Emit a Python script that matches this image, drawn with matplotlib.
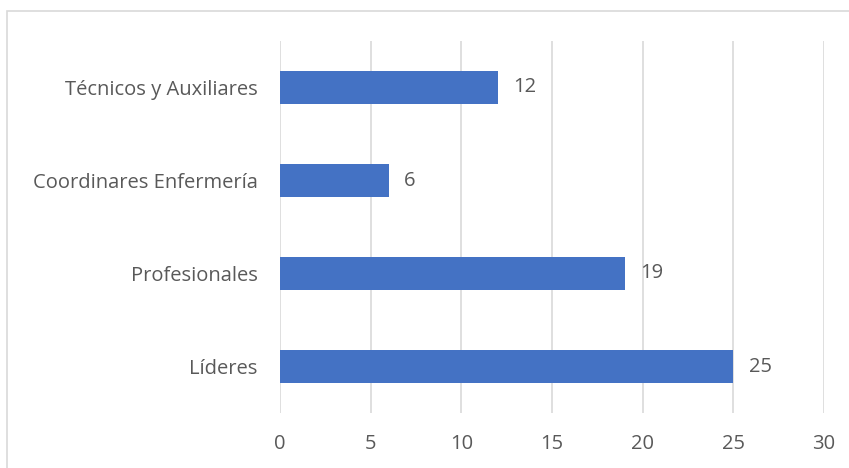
import matplotlib.pyplot as plt
from matplotlib.patches import Rectangle

# categories bottom to top
categorias = ['Líderes', 'Profesionales', 'Coordinares Enfermería', 'Técnicos y Auxiliares']
valores = [25, 19, 6, 12]
xticks = [0, 5, 10, 15, 20, 25, 30]

plt.rcParams['font.family'] = ['Open Sans', 'DejaVu Sans']
gris = '#595959'

fig = plt.figure(figsize=(8.49, 4.68), dpi=100)
ax = fig.add_axes([280 / 849, 1 - 413 / 468, 544 / 849, 372 / 468])

# outer chart border (light gray)
fig.patches.append(Rectangle((7 / 849, -0.2), 1.2, 1 - 11 / 468 + 0.2,
                             transform=fig.transFigure, fill=False,
                             edgecolor='#d9d9d9', linewidth=1.2))

barras = ax.barh(range(len(categorias)), valores, height=0.35, color='#4472c4', zorder=3)
ax.bar_label(barras, labels=[str(v) for v in valores], padding=11, fontsize=14.5, color=gris)

ax.set_xlim(0, 30)
ax.set_ylim(-0.5, len(categorias) - 0.5)
ax.set_xticks(xticks)
ax.set_yticks(range(len(categorias)))
ax.set_yticklabels(categorias)
ax.tick_params(axis='both', length=0, labelsize=14.5, colors=gris)
ax.tick_params(axis='y', pad=16)
ax.tick_params(axis='x', pad=15)
ax.grid(axis='x', color='#d9d9d9', linewidth=1.2, zorder=0)
for s in ax.spines.values():
    s.set_visible(False)

fig.savefig('out.png', dpi=100)
